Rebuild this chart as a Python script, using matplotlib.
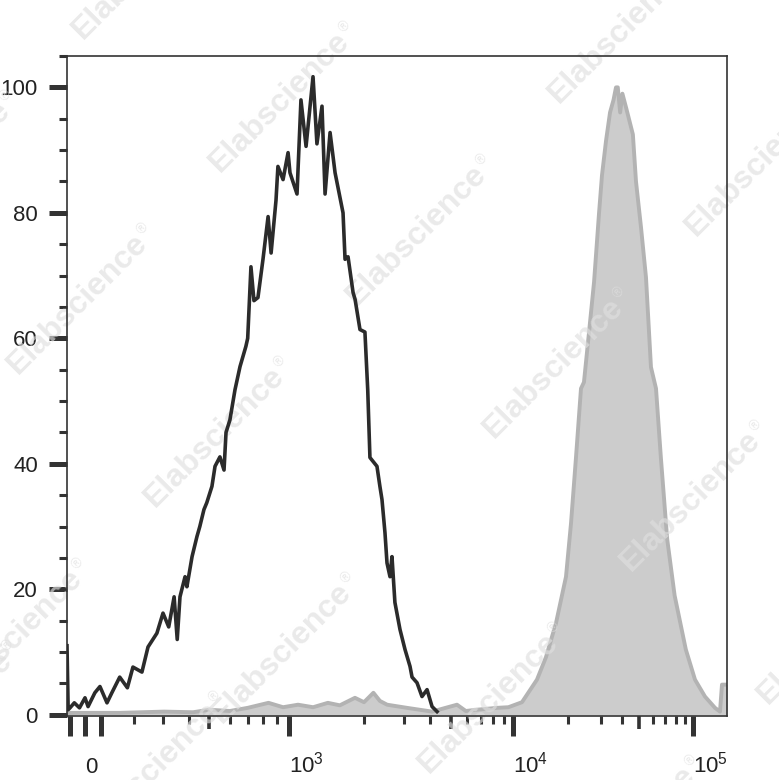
import numpy as np
import matplotlib
matplotlib.use("Agg")
import matplotlib.pyplot as plt
from matplotlib.ticker import FixedLocator, MultipleLocator, NullFormatter
from matplotlib.textpath import TextPath
from matplotlib.font_manager import FontProperties

plt.rcParams["font.family"] = ["Liberation Sans", "DejaVu Sans"]
plt.rcParams["mathtext.fontset"] = "custom"
plt.rcParams["mathtext.rm"] = "Liberation Sans"
plt.rcParams["mathtext.default"] = "regular"

# ---- data (fluorescence value, % of max) ----
black_x = [-120, -112, -100, -67, -33, 0, 17, 57, 92, 115, 128, 151, 176, 196, 224,
           244, 276, 300, 320, 340, 352, 363, 384, 392, 415, 438, 452, 473, 488, 513,
           527, 550, 570, 580, 600, 627, 655, 689, 700, 720, 739, 765, 799, 835, 857,
           894, 909, 950, 992, 1009, 1077, 1117, 1171, 1249, 1295, 1357, 1396, 1462,
           1531, 1648, 1679, 1726, 1808, 1842, 1927, 2019, 2077, 2124, 2281, 2350, 2400,
           2474, 2525, 2603, 2656, 2736, 2880, 3033, 3203, 3274, 3456, 3648, 3854, 4070,
           4297]
black_y = [11, 0.8, 1.1, 1.9, 1.1, 2.7, 1.3, 3.5, 4.5, 1.9, 3.5, 6.0, 4.3, 7.6, 6.8,
           10.8, 13.0, 16.2, 14.0, 18.8, 12.0, 18.8, 22, 20.4, 25.2, 28.4, 30, 32.7, 33.8, 36.4,
           39.6, 41.1, 39, 45, 47, 51.8, 55.5, 58.7, 60, 71.4, 66, 66.5, 72.6, 79.4, 73.6,
           82, 87.4, 85.3, 89.6, 86.4, 83, 98, 90.6, 101.7, 91, 97, 83, 92.8,
           86.4, 80, 72.6, 73, 67.3, 66.2, 61.4, 61, 51.8, 41, 39.6, 36.4, 34.3,
           29, 24.2, 22, 25.2, 17.9, 13.6, 10.4, 7.7, 6, 5.1, 2.9, 4, 1.3,
           0.5]

gray_x = [-120, 150, 304, 420, 500, 600, 700, 838, 950, 1087, 1250, 1433, 1600, 1840,
          2000, 2200, 2350, 2529, 3099, 4070, 4600, 5346, 5900, 6683, 8366, 9500, 11200,
          13530, 15160, 17190, 19500, 20750, 22060, 23460, 24330, 25900, 27550, 29290,
          30400, 32100, 33870, 35500, 36700, 37600, 38810, 40000, 42280, 46050, 48020,
          51300, 54700, 58300, 62200, 66200, 71800, 79000, 91200, 102600, 116700, 132800,
          141600, 145300, 155000]
gray_y = [0.3, 0.3, 0.5, 0.4, 0.8, 0.6, 1.1, 1.9, 1.2, 1.6, 1.2, 1.9, 1.5, 2.7,
          2.0, 3.5, 2.2, 1.6, 1.1, 0.5, 1.0, 1.6, 0.6, 0.8, 1.1, 1.2, 2.0,
          5.6, 9.2, 14.6, 22, 30.5, 41, 52, 53, 61, 69, 80,
          86, 91.5, 96, 98, 100, 100, 96, 99, 96.5, 92.5, 85,
          77.7, 69.7, 55.4, 52, 41, 28, 19, 10.4, 5.6, 2.9, 1.1,
          0.5, 4.8, 4.8]

y_ticks = [0, 20, 40, 60, 80, 100]
x_major = [-100, 0, 100, 1000, 10000, 100000]
x_mid = [500, 5000, 50000]
x_minor = [200, 300, 400, 600, 700, 800, 900,
           2000, 3000, 4000, 6000, 7000, 8000, 9000,
           20000, 30000, 40000, 60000, 70000, 80000, 90000]
x_labels = {0: "0", 1000: "$10^{3}$", 10000: "$10^{4}$", 100000: "$10^{5}$"}
watermark = "Elabscience"

# ---- biexponential-like display scale (anchors from the axis ticks) ----
anchor_v = np.array([-120, -100, 0, 100, 200, 300, 500, 1000, 2000, 3000, 5000,
                     10000, 20000, 30000, 50000, 100000, 155000], dtype=float)
anchor_p = np.array([67, 70, 85, 101, 134, 163, 209, 289, 364, 404, 451,
                     513, 568, 601, 639, 693, 727], dtype=float)
anchor_u = np.arcsinh(anchor_v / 100)


def fwd(x):
    return np.interp(np.arcsinh(np.asarray(x, dtype=float) / 100), anchor_u, anchor_p)


def inv(p):
    return 100 * np.sinh(np.interp(np.asarray(p, dtype=float), anchor_p, anchor_u))


fig = plt.figure(figsize=(7.79, 7.80), dpi=100)
ax = fig.add_axes([67 / 779, 64 / 780, 660 / 779, 660 / 780])
ax.set_xscale("function", functions=(fwd, inv))
ax.set_xlim(-120, 155000)
ax.set_ylim(-0.2, 105)

ax.fill_between(gray_x, 0, gray_y, color="#cccccc", lw=0, zorder=1)
ax.plot(gray_x, gray_y, color="#b3b3b3", lw=2.8, zorder=1.5)
ax.plot(black_x, black_y, color="#2b2b2b", lw=2.6, zorder=3)

# spines
for s in ax.spines.values():
    s.set_color("#333333")
    s.set_linewidth(1.2)

# y axis ticks
ax.yaxis.set_major_locator(FixedLocator(y_ticks))
ax.yaxis.set_minor_locator(MultipleLocator(5))
ax.tick_params(axis="y", which="major", length=13, width=3.6, color="#333333",
               labelsize=16, labelcolor="#222222", pad=8)
ax.tick_params(axis="y", which="minor", length=6, width=2.2, color="#333333")

# x axis ticks
ax.xaxis.set_major_locator(FixedLocator(x_major))
ax.xaxis.set_minor_locator(FixedLocator(x_minor))
ax.xaxis.set_major_formatter(NullFormatter())
ax.xaxis.set_minor_formatter(NullFormatter())
ax.tick_params(axis="x", which="major", length=14.4, width=3.6, color="#333333")
ax.tick_params(axis="x", which="minor", length=6, width=2.2, color="#333333")
for v in x_mid:
    ax.plot([v, v], [0, -13 / 660], transform=ax.get_xaxis_transform(), color="#333333",
            lw=2.6, solid_capstyle="butt", clip_on=False)

for v, lab in x_labels.items():
    ax.text(v, -57 / 660, lab, transform=ax.get_xaxis_transform(), ha="left",
            va="baseline", fontsize=16, color="#222222")

# watermark pattern
wm_size = 23
wm_prop = FontProperties(family="Liberation Sans", weight="bold")
wm_len = TextPath((0, 0), watermark, size=wm_size, prop=wm_prop).get_extents().x1 * 100 / 72
along = np.array([1, -1]) / np.sqrt(2)
up = np.array([-1, -1]) / np.sqrt(2)

base = np.array([220, 173])
A = np.array([137, 133])
B = np.array([202, -202])
spots = []
for a in range(-2, 6):
    for b in range(-3, 3):
        p = base + a * A + b * B
        if (a, b) == (2, -1):
            continue
        end = p + np.array([150, -153])
        if end[0] < 0 or p[0] > 779 or end[1] > 780 or p[1] < 0:
            continue
        spots.append(p)
spots += [np.array([222, 724]), np.array([-117, 792])]
for p in spots:
    ax.text(p[0] / 779, 1 - p[1] / 780, watermark, transform=fig.transFigure,
            rotation=45, rotation_mode="anchor", ha="left", va="baseline",
            fontsize=wm_size, fontweight="bold", color="#dfdfdf", alpha=0.65,
            zorder=2, clip_on=False)
    q = p + along * (wm_len + 3) + up * 12
    ax.text(q[0] / 779, 1 - q[1] / 780, "\u00ae", transform=fig.transFigure,
            rotation=45, rotation_mode="anchor", ha="left", va="baseline",
            fontsize=10, color="#dfdfdf", alpha=0.65, zorder=2, clip_on=False)

fig.savefig("out.png", dpi=100)
